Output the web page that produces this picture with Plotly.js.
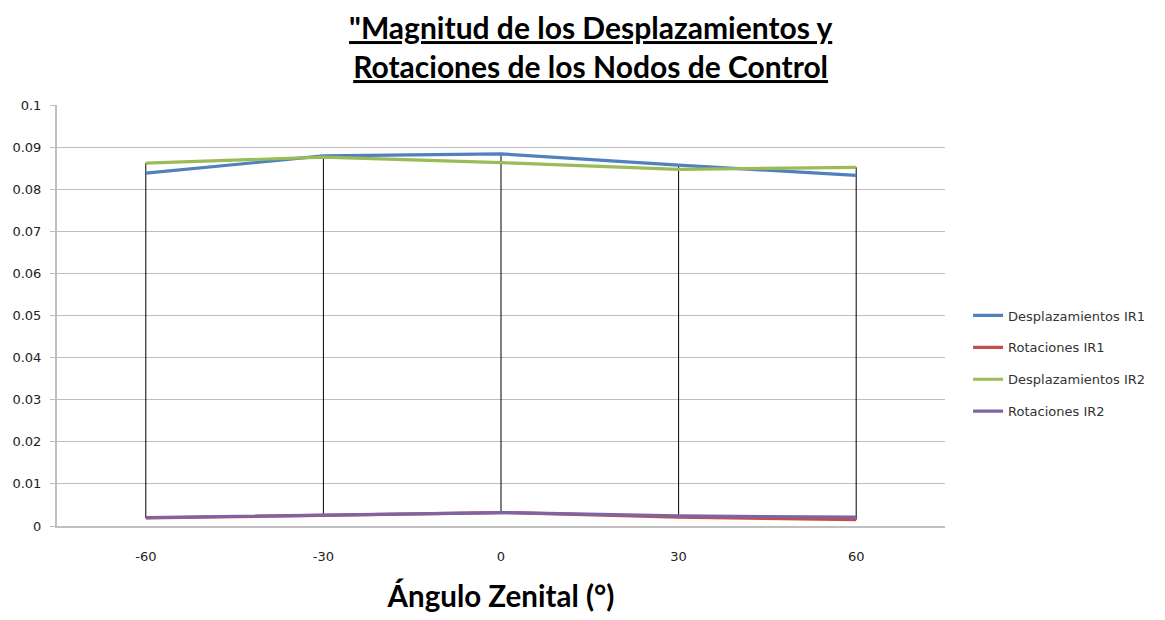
<!DOCTYPE html>
<html>
<head>
<meta charset="utf-8">
<script src="https://cdn.plot.ly/plotly-3.0.1.min.js"></script>
<style>html,body{margin:0;padding:0;background:#fff;}#chart{width:1165px;height:620px;}</style>
</head>
<body>
<div id="chart"></div>
<script>
const categories = ['-60', '-30', '0', '30', '60'];
const despIR1 = [0.0838, 0.0879, 0.0884, 0.0857, 0.0833];
const rotIR1  = [0.0019, 0.0026, 0.0032, 0.0021, 0.0015];
const despIR2 = [0.0862, 0.0876, 0.0863, 0.0847, 0.0852];
const rotIR2  = [0.0020, 0.0026, 0.0032, 0.0024, 0.0021];
const seriesNames = ['Desplazamientos IR1', 'Rotaciones IR1', 'Desplazamientos IR2', 'Rotaciones IR2'];
const seriesColors = ['#4F81BD', '#C0504D', '#9BBB59', '#8064A2'];
const seriesData = [despIR1, rotIR1, despIR2, rotIR2];

// drop lines (high-low) from max to min of all series at each category
const dropX = [], dropY = [];
categories.forEach((c, i) => {
  const vals = seriesData.map(s => s[i]);
  dropX.push(c, c, null);
  dropY.push(Math.max(...vals), Math.min(...vals), null);
});

const traces = [{
  x: dropX, y: dropY, mode: 'lines', type: 'scatter',
  line: {color: '#000000', width: 1}, showlegend: false, hoverinfo: 'skip'
}];
seriesData.forEach((s, k) => {
  traces.push({
    x: categories, y: s, mode: 'lines', type: 'scatter', name: seriesNames[k],
    legendgroup: 'g' + k,
    line: {color: seriesColors[k], width: 3.2}
  });
});

const layout = {
  width: 1165, height: 620,
  paper_bgcolor: '#ffffff', plot_bgcolor: '#ffffff',
  margin: {l: 57, r: 220, t: 105, b: 94},
  font: {family: 'Lato, "Liberation Sans", sans-serif', color: '#222'},
  title: {
    text: '<u>"Magnitud de los Desplazamientos y</u><br><u>Rotaciones de los Nodos de Control</u>',
    font: {family: 'Lato, "Liberation Sans", sans-serif', size: 30, color: '#000', weight: 'bold'},
    x: 0.507, xref: 'container', xanchor: 'center',
    y: 0.937, yref: 'container', yanchor: 'top'
  },
  xaxis: {
    type: 'category', range: [-0.5, 4.5],
    showgrid: false, showline: true, linecolor: '#BFBFBF', linewidth: 2,
    ticks: '', zeroline: false, ticklabelstandoff: 17,
    tickfont: {family: '"DejaVu Sans", sans-serif', size: 13, color: '#222'},
    title: {text: '<b>Ángulo Zenital (°)</b>', font: {family: 'Lato, "Liberation Sans", sans-serif', size: 29.5, color: '#000'}, standoff: 24}
  },
  yaxis: {
    range: [0, 0.1], dtick: 0.01, tick0: 0,
    showgrid: true, gridcolor: '#BFBFBF', gridwidth: 1,
    showline: true, linecolor: '#BFBFBF', linewidth: 2,
    ticks: 'outside', ticklen: 5, tickcolor: '#BFBFBF',
    zeroline: false, ticklabelstandoff: 6,
    tickfont: {family: '"DejaVu Sans", sans-serif', size: 13, color: '#222'}
  },
  legend: {
    x: 1.026, xanchor: 'left', y: 0.386, yanchor: 'middle',
    font: {family: '"DejaVu Sans", sans-serif', size: 13, color: '#333'},
    tracegroupgap: 12,
    bgcolor: 'rgba(0,0,0,0)'
  },
  showlegend: true
};

Plotly.newPlot('chart', traces, layout, {displayModeBar: false, staticPlot: true});
</script>
</body>
</html>
